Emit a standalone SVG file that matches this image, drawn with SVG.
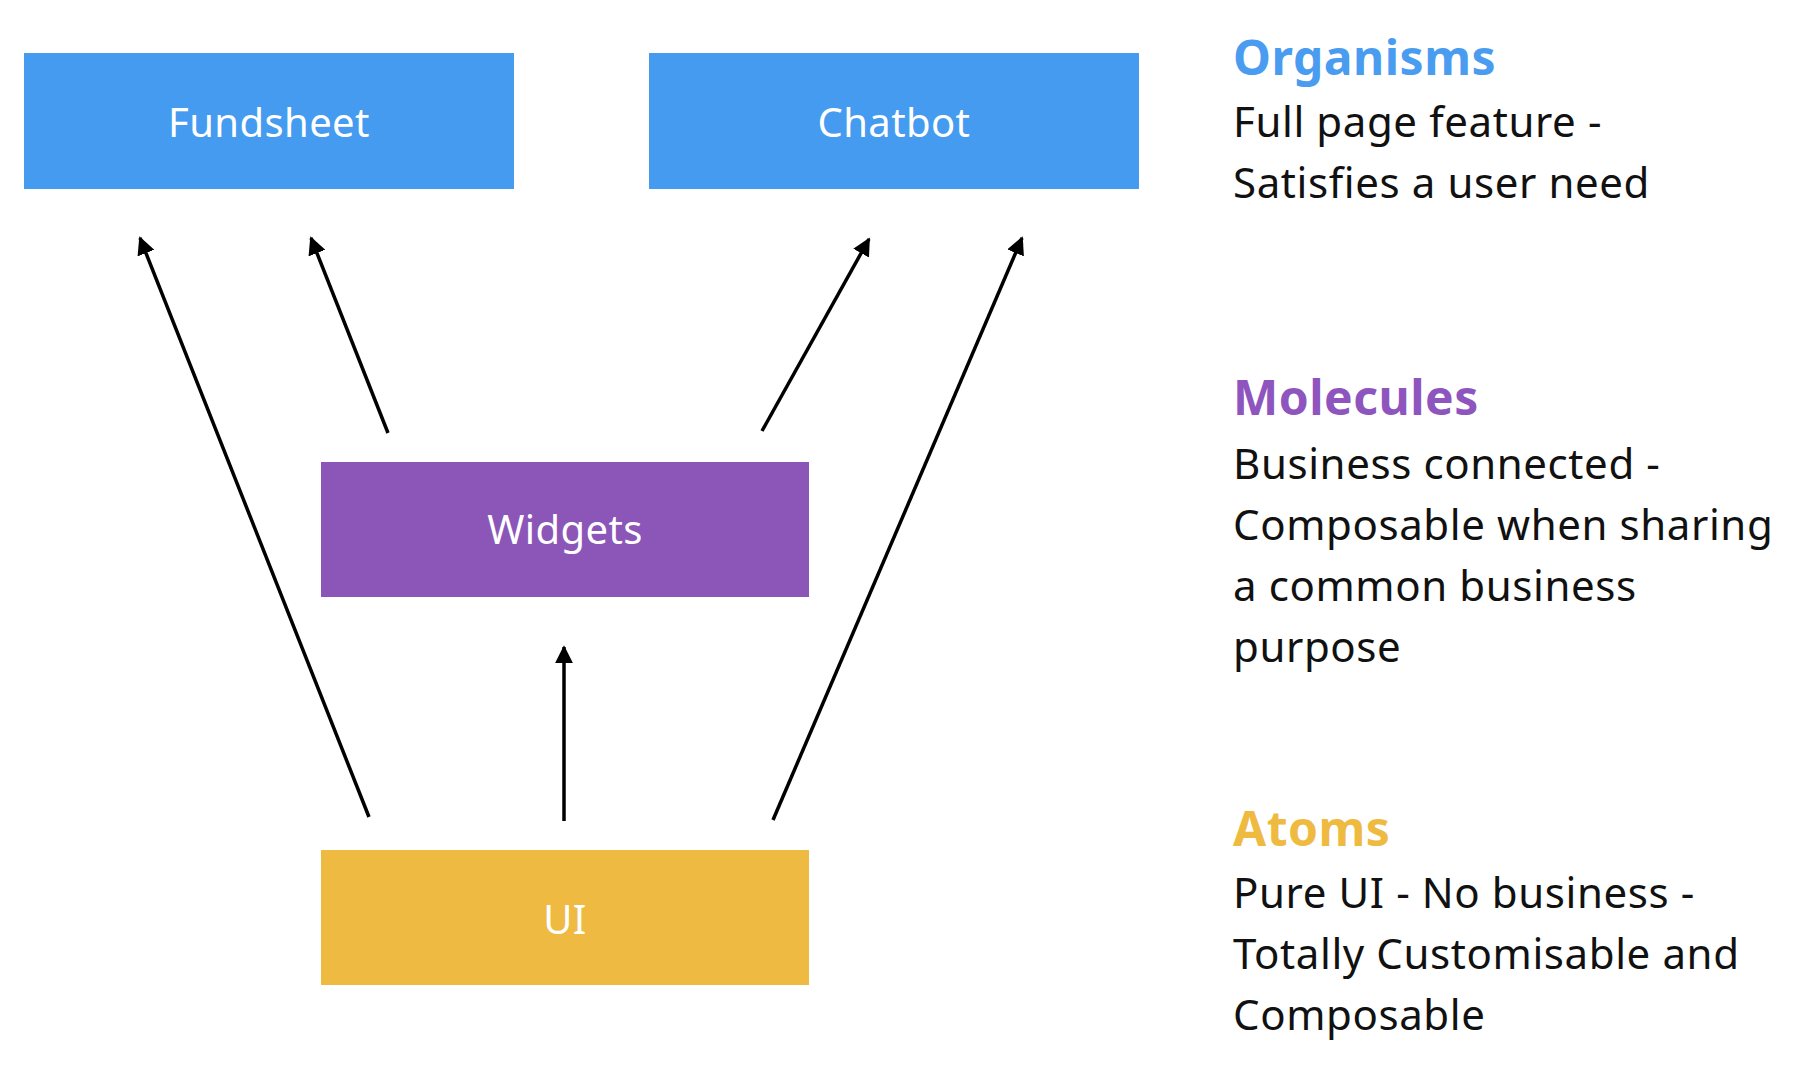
<svg xmlns="http://www.w3.org/2000/svg" width="1802" height="1070" viewBox="0 0 1802 1070">
  <style>
    .box-label { font-family: "Noto Sans", "Open Sans", sans-serif; font-size: 40px; letter-spacing: 0.4px; fill: #ffffff; text-anchor: middle; }
    .heading { font-family: "Noto Sans", "Open Sans", sans-serif; font-size: 48px; letter-spacing: 0.5px; font-weight: bold; }
    .body { font-family: "Noto Sans", "Open Sans", sans-serif; font-size: 42px; letter-spacing: 0.6px; fill: #111111; }
    .link { stroke: #000000; stroke-width: 3.5; fill: none; marker-end: url(#arrow); }
  </style>
  <defs>
    <marker id="arrow" viewBox="0 0 10 10" refX="9" refY="5" markerUnits="userSpaceOnUse" markerWidth="18" markerHeight="18" orient="auto">
      <path d="M0,0 L10,5 L0,10 z" fill="#000000"/>
    </marker>
  </defs>
  <rect width="1802" height="1070" fill="#ffffff"/>

  <!-- connectors -->
  <g id="connectors">
    <line class="link" x1="369" y1="817" x2="140" y2="238"/>
    <line class="link" x1="388" y1="433" x2="311" y2="238"/>
    <line class="link" x1="762" y1="431" x2="869" y2="239"/>
    <line class="link" x1="773" y1="820" x2="1022" y2="238"/>
    <line class="link" x1="564" y1="821" x2="564" y2="647"/>
  </g>

  <!-- organisms -->
  <g id="fundsheet">
    <rect x="24" y="53" width="490" height="136" fill="#459bef"/>
    <text class="box-label" x="269" y="137">Fundsheet</text>
  </g>
  <g id="chatbot">
    <rect x="649" y="53" width="490" height="136" fill="#459bef"/>
    <text class="box-label" x="894" y="137">Chatbot</text>
  </g>

  <!-- molecules -->
  <g id="widgets">
    <rect x="321" y="462" width="488" height="135" fill="#8c55b8"/>
    <text class="box-label" x="565" y="544">Widgets</text>
  </g>

  <!-- atoms -->
  <g id="ui">
    <rect x="321" y="850" width="488" height="135" fill="#eeba41"/>
    <text class="box-label" x="565" y="934">UI</text>
  </g>

  <!-- legend -->
  <g id="legend-organisms">
    <text class="heading" x="1233" y="75" fill="#4a9cf0">Organisms</text>
    <text class="body" x="1233" y="137">Full page feature -</text>
    <text class="body" x="1233" y="198">Satisfies a user need</text>
  </g>
  <g id="legend-molecules">
    <text class="heading" x="1233" y="415" fill="#8e55be">Molecules</text>
    <text class="body" x="1233" y="479">Business connected -</text>
    <text class="body" x="1233" y="540">Composable when sharing</text>
    <text class="body" x="1233" y="601">a common business</text>
    <text class="body" x="1233" y="662">purpose</text>
  </g>
  <g id="legend-atoms">
    <text class="heading" x="1233" y="846" fill="#eeba40">Atoms</text>
    <text class="body" x="1233" y="908">Pure UI - No business -</text>
    <text class="body" x="1233" y="969">Totally Customisable and</text>
    <text class="body" x="1233" y="1030">Composable</text>
  </g>
</svg>
